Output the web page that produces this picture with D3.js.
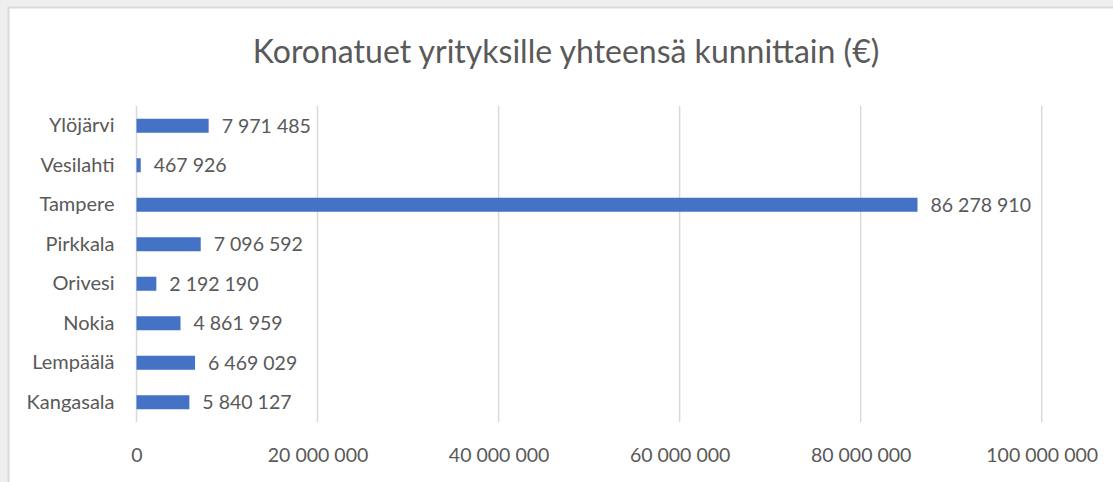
<!DOCTYPE html>
<html>
<head>
<meta charset="utf-8">
<script src="https://cdn.jsdelivr.net/npm/d3@7"></script>
<style>
  html, body { margin: 0; padding: 0; background: #efefef; }
  svg { display: block; }
</style>
</head>
<body>
<svg id="chart" width="1113" height="482"></svg>
<script>
// Municipalities, bottom to top as listed in the source table
const municipalities = ["Kangasala", "Lempäälä", "Nokia", "Orivesi", "Pirkkala", "Tampere", "Vesilahti", "Ylöjärvi"];
const totals = [5840127, 6469029, 4861959, 2192190, 7096592, 86278910, 467926, 7971485];
const xTicks = [0, 20000000, 40000000, 60000000, 80000000, 100000000];
const title = "Koronatuet yrityksille yhteensä kunnittain (€)";

const fi = d3.formatLocale({ decimal: ",", thousands: " ", grouping: [3], currency: ["", " €"] });
const fmt = fi.format(",d");

const W = 1113, H = 482;
const svg = d3.select("#chart");
const font = "Lato, 'Open Sans', sans-serif";
const textColor = "#595959";

// chart panel
svg.append("rect").attr("x", 8.5).attr("y", 7.5).attr("width", W + 10).attr("height", H + 10)
  .attr("fill", "#ffffff").attr("stroke", "#d9d9d9").attr("stroke-width", 2);

const plot = { left: 136.5, right: 1041.7, top: 106, bottom: 422 };

const x = d3.scaleLinear().domain([0, 100000000]).range([plot.left, plot.right]);
const y = d3.scaleBand().domain(municipalities.slice().reverse())
  .range([plot.top, plot.bottom]).paddingInner(0.645).paddingOuter(0.3225);

// title
svg.append("text").attr("x", 566).attr("y", 63).attr("text-anchor", "middle")
  .attr("font-family", font).attr("font-size", 32).attr("fill", textColor).text(title);

// vertical gridlines
svg.append("g").selectAll("line").data(xTicks).join("line")
  .attr("x1", d => x(d)).attr("x2", d => x(d))
  .attr("y1", plot.top).attr("y2", plot.bottom)
  .attr("stroke", "#d9d9d9").attr("stroke-width", 1.5);

// x tick labels
const xAxis = d3.axisBottom(x).tickValues(xTicks).tickFormat(fmt).tickSize(0).tickPadding(0);
const gx = svg.append("g").attr("transform", `translate(0,${plot.bottom + 40})`).call(xAxis);
gx.select(".domain").remove();
gx.selectAll("text").attr("font-family", font).attr("font-size", 19.5).attr("fill", textColor).attr("dy", 0);

// category labels
const yAxis = d3.axisLeft(y).tickSize(0).tickPadding(0);
const gy = svg.append("g").attr("transform", `translate(${plot.left - 22},0)`).call(yAxis);
gy.select(".domain").remove();
gy.selectAll("text").attr("font-family", font).attr("font-size", 20).attr("fill", textColor);

// bars
svg.append("g").selectAll("rect").data(municipalities).join("rect")
  .attr("x", x(0))
  .attr("y", d => y(d))
  .attr("width", (d, i) => x(totals[i]) - x(0))
  .attr("height", y.bandwidth())
  .attr("fill", "#4472c4");

// value labels
svg.append("g").selectAll("text").data(municipalities).join("text")
  .attr("x", (d, i) => x(totals[i]) + 13)
  .attr("y", d => y(d) + y.bandwidth() / 2)
  .attr("dy", "0.35em")
  .attr("font-family", font).attr("font-size", 19.5).attr("fill", textColor)
  .text((d, i) => fmt(totals[i]));
</script>
</body>
</html>
